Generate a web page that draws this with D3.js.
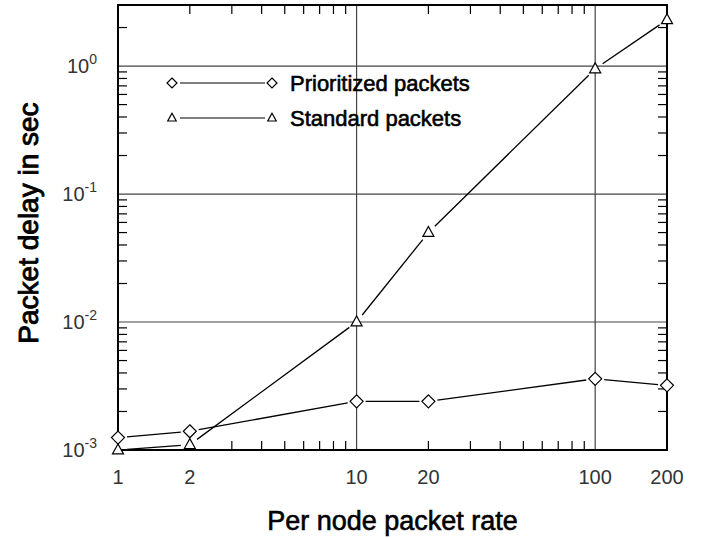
<!DOCTYPE html>
<html>
<head>
<meta charset="utf-8">
<script src="https://cdn.jsdelivr.net/npm/d3@7"></script>
<style>
  body { margin: 0; background: #fff; }
  svg { font-family: "Liberation Sans", Arial, sans-serif; }
  .tick-label { font-family: "Liberation Sans Narrow", "Liberation Sans", Arial, sans-serif; }
  .heavy { stroke: #000; stroke-width: 0.6px; }
</style>
</head>
<body>
<svg id="chart"></svg>
<script>
// data
const rates = [1, 2, 10, 20, 100, 200];
const prioritized = [1.25e-3, 1.4e-3, 2.4e-3, 2.4e-3, 3.6e-3, 3.2e-3];
const standard = [1.0e-3, 1.1e-3, 1.0e-2, 5.0e-2, 0.95, 2.3];
const xTickLabels = [1, 2, 10, 20, 100, 200];
const yTickExps = [-3, -2, -1, 0];
const seriesNames = ["Prioritized packets", "Standard packets"];

const width = 709;
const height = 538;
const margin = { top: 5, right: 42, bottom: 88, left: 118 };

const svg = d3.select("#chart")
    .attr("width", width)
    .attr("height", height);

const x = d3.scaleLog()
    .domain([1, 200])
    .range([margin.left, width - margin.right]);

const y = d3.scaleLog()
    .domain([1e-3, 3])
    .range([height - margin.bottom, margin.top]);

const x0 = x.range()[0], x1 = x.range()[1];
const y0 = y.range()[0], y1 = y.range()[1];

/* grid lines at decades */
const g = svg.append("g");
[10, 100].forEach((v) => {
    g.append("line")
        .attr("x1", x(v)).attr("x2", x(v))
        .attr("y1", y0).attr("y2", y1)
        .attr("stroke", "#444").attr("stroke-width", 1.2);
});
[1e-2, 1e-1, 1].forEach((v) => {
    g.append("line")
        .attr("x1", x0).attr("x2", x1)
        .attr("y1", y(v)).attr("y2", y(v))
        .attr("stroke", "#444").attr("stroke-width", 1.2);
});

/* minor ticks, pointing inward on all four sides */
const xMinor = [];
for (let d = 1; d <= 100; d *= 10) {
    for (let k = 2; k <= 9; k++) {
        if (d * k <= 200) xMinor.push(d * k);
    }
}
const yMinor = [];
for (let d = 1e-3; d < 2; d *= 10) {
    for (let k = 2; k <= 9; k++) {
        if (d * k <= 3) yMinor.push(d * k);
    }
}
const tickLen = 9;
xMinor.forEach((v) => {
    g.append("line").attr("x1", x(v)).attr("x2", x(v))
        .attr("y1", y0).attr("y2", y0 - tickLen)
        .attr("stroke", "#000").attr("stroke-width", 1.2);
    g.append("line").attr("x1", x(v)).attr("x2", x(v))
        .attr("y1", y1).attr("y2", y1 + tickLen)
        .attr("stroke", "#000").attr("stroke-width", 1.2);
});
yMinor.forEach((v) => {
    g.append("line").attr("x1", x0).attr("x2", x0 + tickLen)
        .attr("y1", y(v)).attr("y2", y(v))
        .attr("stroke", "#000").attr("stroke-width", 1.2);
    g.append("line").attr("x1", x1).attr("x2", x1 - tickLen)
        .attr("y1", y(v)).attr("y2", y(v))
        .attr("stroke", "#000").attr("stroke-width", 1.2);
});

/* frame */
g.append("rect")
    .attr("x", x0).attr("y", y1)
    .attr("width", x1 - x0).attr("height", y0 - y1)
    .attr("fill", "none").attr("stroke", "#000").attr("stroke-width", 2);

/* tick labels */
xTickLabels.forEach((v) => {
    svg.append("text")
        .attr("class", "tick-label")
        .attr("x", x(v)).attr("y", y0 + 34)
        .attr("text-anchor", "middle")
        .attr("font-size", 20)
        .attr("fill", "#333")
        .text(v);
});
yTickExps.forEach((e) => {
    const t = svg.append("text")
        .attr("class", "tick-label")
        .attr("x", x0 - 21).attr("y", y(Math.pow(10, e)) + 7)
        .attr("text-anchor", "end")
        .attr("font-size", 20)
        .attr("fill", "#333");
    t.append("tspan").text("10");
    t.append("tspan").attr("dy", -9).attr("font-size", 14).text(e);
});

/* axis titles */
svg.append("text")
    .attr("class", "heavy")
    .attr("x", (x0 + x1) / 2).attr("y", 530)
    .attr("text-anchor", "middle")
    .attr("font-size", 27)
    .text("Per node packet rate");
svg.append("text")
    .attr("class", "heavy")
    .attr("transform", "translate(38,223) rotate(-90)")
    .attr("text-anchor", "middle")
    .attr("font-size", 28)
    .style("stroke-width", "0.9px")
    .text("Packet delay in sec");

/* series: lines trimmed so they stop short of each marker */
function drawSeries(values, marker, gap) {
    const pts = rates.map((r, i) => [x(r), y(values[i])]);
    for (let i = 0; i < pts.length - 1; i++) {
        const [ax, ay] = pts[i];
        const [bx, by] = pts[i + 1];
        const len = Math.hypot(bx - ax, by - ay);
        if (len <= 2 * gap) continue;
        const ux = (bx - ax) / len, uy = (by - ay) / len;
        svg.append("line")
            .attr("x1", ax + ux * gap).attr("y1", ay + uy * gap)
            .attr("x2", bx - ux * gap).attr("y2", by - uy * gap)
            .attr("stroke", "#000").attr("stroke-width", 1.3);
    }
    pts.forEach((p) => marker(p[0], p[1], 6.5));
}

function diamond(cx, cy, r) {
    svg.append("path")
        .attr("d", `M${cx},${cy - r}L${cx + r},${cy}L${cx},${cy + r}L${cx - r},${cy}Z`)
        .attr("fill", "#fff").attr("stroke", "#000").attr("stroke-width", 1.2);
}

function triangle(cx, cy, r) {
    const h = r * 0.85;
    svg.append("path")
        .attr("d", `M${cx},${cy - h * 1.1}L${cx + h},${cy + h * 0.7}L${cx - h},${cy + h * 0.7}Z`)
        .attr("fill", "#fff").attr("stroke", "#000").attr("stroke-width", 1.2);
}

drawSeries(prioritized, diamond, 9);
drawSeries(standard, triangle, 9);

/* legend */
const legend = [[diamond, 83], [triangle, 118]];
legend.forEach(([m, ly], i) => {
    svg.append("line")
        .attr("x1", 180).attr("x2", 265)
        .attr("y1", ly).attr("y2", ly)
        .attr("stroke", "#000").attr("stroke-width", 1.2);
    m(172, ly, 5);
    m(272, ly, 5);
    svg.append("text")
        .attr("class", "heavy")
        .attr("x", 290).attr("y", ly + 8)
        .attr("font-size", 22)
        .text(seriesNames[i]);
});
</script>
</body>
</html>
